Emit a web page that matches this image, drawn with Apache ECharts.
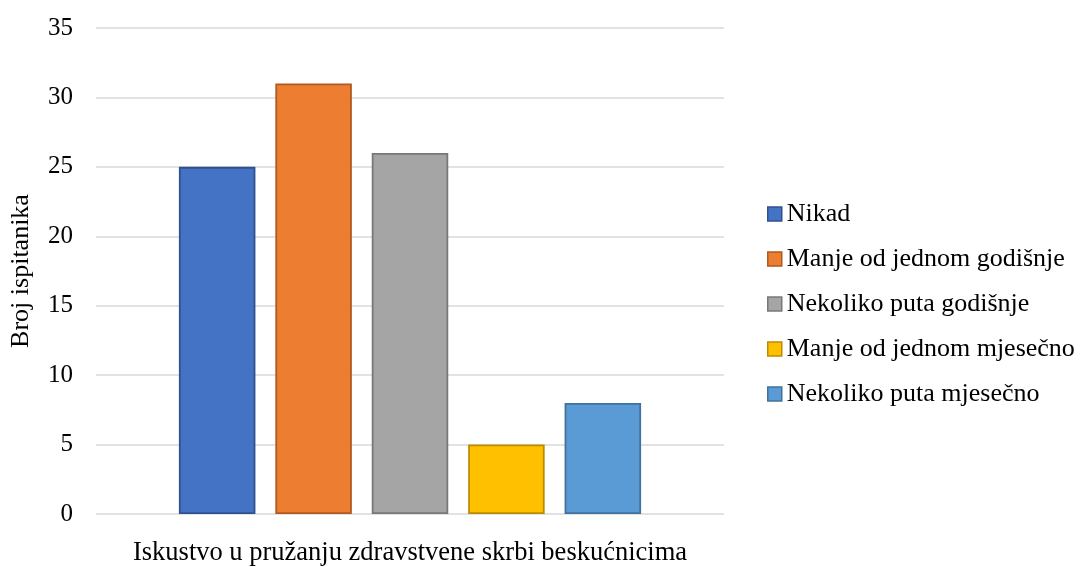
<!DOCTYPE html>
<html>
<head>
<meta charset="utf-8">
<script src="https://cdn.jsdelivr.net/npm/echarts@6/dist/echarts.min.js"></script>
<style>html,body{margin:0;padding:0;background:#fff}#c{width:1085px;height:567px}</style>
</head>
<body>
<div id="c"></div>
<script>
const categories = ['Iskustvo u pružanju zdravstvene skrbi beskućnicima'];
const seriesNames = ['Nikad', 'Manje od jednom godišnje', 'Nekoliko puta godišnje', 'Manje od jednom mjesečno', 'Nekoliko puta mjesečno'];
const seriesValues = [25, 31, 26, 5, 8];
const fillColors = ['#4472C4', '#ED7D31', '#A5A5A5', '#FFC000', '#5B9BD5'];
const borderColors = ['#2F528F', '#AE5A21', '#787878', '#BC8C00', '#41719C'];
const yTicks = [0, 5, 10, 15, 20, 25, 30, 35];

const font = '"Liberation Serif", "DejaVu Serif", serif';
const chart = echarts.init(document.getElementById('c'), null, {renderer: 'canvas'});
chart.setOption({
  animation: false,
  textStyle: {fontFamily: font},
  grid: {left: 95, right: 361, top: 28, bottom: 51, containLabel: false},
  legend: {
    orient: 'vertical', left: 762, top: 196,
    icon: 'rect', itemWidth: 14, itemHeight: 14, itemGap: 19,
    textStyle: {fontFamily: font, fontSize: 26, color: '#000'},
    data: seriesNames.map((n, i) => ({name: n, itemStyle: {color: fillColors[i], borderColor: borderColors[i], borderWidth: 1.5}}))
  },
  xAxis: {
    type: 'category', data: categories,
    axisLine: {show: false}, axisTick: {show: false},
    axisLabel: {fontFamily: font, fontSize: 26.5, color: '#000', margin: 26}
  },
  yAxis: {
    type: 'value', min: yTicks[0], max: yTicks[yTicks.length - 1], interval: 5,
    name: 'Broj ispitanika', nameLocation: 'middle', nameGap: 62, nameRotate: 90,
    nameTextStyle: {fontFamily: font, fontSize: 26, color: '#000'},
    axisLine: {show: false}, axisTick: {show: false},
    axisLabel: {fontFamily: font, fontSize: 25, color: '#000', margin: 23},
    splitLine: {lineStyle: {color: '#D9D9D9', width: 1.5}}
  },
  series: seriesNames.map((n, i) => ({
    name: n, type: 'bar', data: [seriesValues[i]],
    barGap: '26%', barCategoryGap: '26.4%',
    itemStyle: {color: fillColors[i], borderColor: borderColors[i], borderWidth: 1.8}
  }))
});
</script>
</body>
</html>
